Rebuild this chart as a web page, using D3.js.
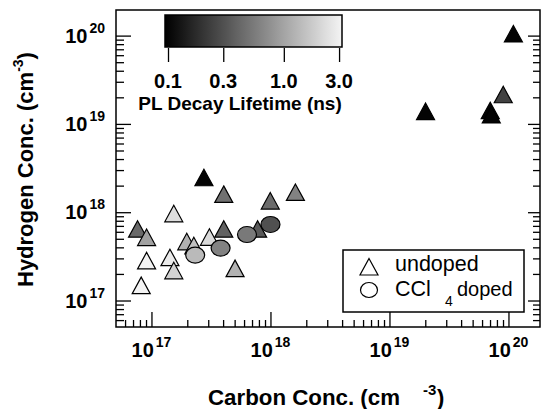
<!DOCTYPE html>
<html>
<head>
<meta charset="utf-8">
<script src="https://cdn.jsdelivr.net/npm/d3@7"></script>
<style>
    body { margin: 0; background: #fff; }
    svg { display: block; font-family: "Liberation Sans", Arial, sans-serif; }
    .tick-label { font-size: 20px; font-weight: bold; }
    .axis-title { font-size: 22px; font-weight: bold; }
    .legend-text { font-size: 21.5px; }
</style>
</head>
<body>
<script>
// Chart values
const undopedCarbon   = [2.76e17, 4.05e17, 1.54e17, 7.64e16, 9.1e16, 1.98e17, 2.27e17, 3.07e17, 4.05e17, 9.1e16, 1.43e17, 1.54e17, 8.2e16, 5.04e17, 9.96e17, 1.62e18, 7.8e17, 1.10e20, 9.04e19, 7.03e19, 7.17e19, 2.01e19];
const undopedHydrogen = [2.33e18, 1.51e18, 9.1e17, 6.1e17, 4.9e17, 4.39e17, 3.95e17, 4.93e17, 6.1e17, 2.67e17, 2.9e17, 2.06e17, 1.40e17, 2.18e17, 1.27e18, 1.59e18, 6.1e17, 9.9e19, 2.03e19, 1.34e19, 1.2e19, 1.31e19];
const undopedLifetime = [0.1, 0.48, 2.3, 0.43, 0.96, 1.22, 1.5, 2.18, 0.38, 3.09, 2.75, 1.94, 3.2, 1.22, 0.45, 0.61, 0.34, 0.1, 0.24, 0.1, 0.1, 0.1];

const dopedCarbon   = [2.33e17, 3.81e17, 6.35e17, 1.0e18];
const dopedHydrogen = [3.27e17, 3.92e17, 5.59e17, 7.26e17];
const dopedLifetime = [1.37, 0.61, 0.54, 0.30];

const xDecades = [17, 18, 19, 20];
const yDecades = [17, 18, 19, 20];
const lifetimeTicks = [0.1, 0.3, 1.0, 3.0];
const lifetimeLabels = ["0.1", "0.3", "1.0", "3.0"];
const legendLabels = ["undoped", "CCl"];

// Layout
const width = 541;
const height = 409;
const plot = { left: 116, right: 540, top: 10, bottom: 327 };

const svg = d3.select("body")
    .append("svg")
    .attr("width", width)
    .attr("height", height);

// Scales
const xScale = d3.scaleLog()
    .domain([Math.pow(10, 16.702), Math.pow(10, 20.265)])
    .range([plot.left, plot.right]);

const yScale = d3.scaleLog()
    .domain([Math.pow(10, 16.70), Math.pow(10, 20.29)])
    .range([plot.bottom, plot.top]);

const barScale = d3.scaleLog()
    .domain([0.0942, 3.18])
    .range([165, 342]);

const colorScale = d3.scaleLog()
    .domain([0.0942, 3.18])
    .range(["#000000", "#f4f4f4"])
    .clamp(true);

// Minor tick values for a log domain
function minorTicks(scale) {
    const [lo, hi] = scale.domain();
    const out = [];
    for (let e = Math.floor(Math.log10(lo)); e <= Math.ceil(Math.log10(hi)); e++) {
        for (let m = 2; m <= 9; m++) {
            const v = m * Math.pow(10, e);
            if (v >= lo && v <= hi) out.push(v);
        }
    }
    return out;
}
const xMajor = xDecades.map(e => Math.pow(10, e));
const yMajor = yDecades.map(e => Math.pow(10, e));

function tickAxis(axis, values, size, transform) {
    const g = svg.append("g")
        .attr("transform", transform)
        .call(axis.tickValues(values).tickSize(size).tickFormat(""));
    g.select(".domain").remove();
    g.selectAll("line").attr("stroke", "#000").attr("stroke-width", 1.3);
}

// Bottom axis ticks (inward)
tickAxis(d3.axisTop(xScale), xMajor, 15, `translate(0, ${plot.bottom})`);
tickAxis(d3.axisTop(xScale), minorTicks(xScale), 7, `translate(0, ${plot.bottom})`);

// Left axis ticks (inward)
tickAxis(d3.axisRight(yScale), yMajor, 15, `translate(${plot.left}, 0)`);
tickAxis(d3.axisRight(yScale), minorTicks(yScale), 8, `translate(${plot.left}, 0)`);

// Right axis ticks (inward)
tickAxis(d3.axisLeft(yScale), yMajor, 12, `translate(${plot.right}, 0)`);
tickAxis(d3.axisLeft(yScale), minorTicks(yScale), 7, `translate(${plot.right}, 0)`);

// Frame
svg.append("rect")
    .attr("x", plot.left)
    .attr("y", plot.top)
    .attr("width", plot.right - plot.left)
    .attr("height", plot.bottom - plot.top)
    .attr("fill", "none")
    .attr("stroke", "#000")
    .attr("stroke-width", 1.5);

// X tick labels
xDecades.forEach(e => {
    const t = svg.append("text")
        .attr("class", "tick-label")
        .attr("x", xScale(Math.pow(10, e)))
        .attr("y", 357)
        .attr("text-anchor", "middle");
    t.append("tspan").text("10");
    t.append("tspan").attr("dx", 2).attr("dy", -10).style("font-size", "14px").text(e);
});

// Y tick labels
yDecades.forEach(e => {
    const t = svg.append("text")
        .attr("class", "tick-label")
        .attr("x", 105)
        .attr("y", yScale(Math.pow(10, e)) + 7)
        .attr("text-anchor", "end");
    t.append("tspan").text("10");
    t.append("tspan").attr("dx", 2).attr("dy", -10).style("font-size", "14px").text(e);
});

// X axis title
svg.append("text")
    .attr("class", "axis-title")
    .attr("x", 208)
    .attr("y", 405)
    .attr("textLength", 192)
    .attr("lengthAdjust", "spacingAndGlyphs")
    .text("Carbon Conc. (cm");
svg.append("text")
    .attr("class", "axis-title")
    .attr("x", 423)
    .attr("y", 395)
    .style("font-size", "15px")
    .text("-3");
svg.append("text")
    .attr("class", "axis-title")
    .attr("x", 437)
    .attr("y", 405)
    .text(")");

// Y axis title
const yTitle = svg.append("text")
    .attr("class", "axis-title")
    .attr("transform", "rotate(-90)")
    .attr("x", -287)
    .attr("y", 33);
yTitle.append("tspan").text("Hydrogen Conc. (cm");
yTitle.append("tspan").attr("dy", -10).style("font-size", "14px").text("-3");
yTitle.append("tspan").attr("dy", 10).text(")");

// Colour bar
const grad = svg.append("defs")
    .append("linearGradient")
    .attr("id", "lifetime-grad")
    .attr("x1", "0%").attr("x2", "100%");
const [b0, b1] = barScale.domain();
d3.range(0, 21).forEach(i => {
    const v = b0 * Math.pow(b1 / b0, i / 20);
    grad.append("stop")
        .attr("offset", `${i * 5}%`)
        .attr("stop-color", colorScale(v));
});

svg.append("rect")
    .attr("x", barScale.range()[0])
    .attr("y", 15)
    .attr("width", barScale.range()[1] - barScale.range()[0])
    .attr("height", 32)
    .attr("fill", "url(#lifetime-grad)")
    .attr("stroke", "#000")
    .attr("stroke-width", 1.5);

const barAxis = svg.append("g")
    .attr("transform", "translate(0, 48)")
    .call(d3.axisBottom(barScale).tickValues(lifetimeTicks).tickSize(14).tickFormat(""));
barAxis.select(".domain").remove();
barAxis.selectAll("line").attr("stroke", "#000").attr("stroke-width", 1.3);

svg.selectAll(".bar-label")
    .data(lifetimeTicks)
    .join("text")
    .attr("class", "tick-label bar-label")
    .attr("x", d => barScale(d))
    .attr("y", 88)
    .attr("text-anchor", "middle")
    .text((d, i) => lifetimeLabels[i]);

svg.append("text")
    .attr("x", 240)
    .attr("y", 110)
    .attr("text-anchor", "middle")
    .style("font-size", "19px")
    .style("font-weight", "bold")
    .text("PL Decay Lifetime (ns)");

// Markers
const triangle = "M0,-10.5 L9,6 L-9,6 Z";

const undoped = undopedCarbon.map((c, i) => ({ c, h: undopedHydrogen[i], t: undopedLifetime[i] }));
const doped = dopedCarbon.map((c, i) => ({ c, h: dopedHydrogen[i], t: dopedLifetime[i] }));

svg.selectAll(".undoped")
    .data(undoped)
    .join("path")
    .attr("class", "undoped")
    .attr("d", triangle)
    .attr("transform", d => `translate(${xScale(d.c)}, ${yScale(d.h)})`)
    .attr("fill", d => colorScale(d.t))
    .attr("stroke", "#000")
    .attr("stroke-width", 1.2);

svg.selectAll(".doped")
    .data(doped)
    .join("ellipse")
    .attr("class", "doped")
    .attr("cx", d => xScale(d.c))
    .attr("cy", d => yScale(d.h))
    .attr("rx", 9.5)
    .attr("ry", 8)
    .attr("fill", d => colorScale(d.t))
    .attr("stroke", "#000")
    .attr("stroke-width", 1.2);

// Legend
svg.append("rect")
    .attr("x", 343)
    .attr("y", 250)
    .attr("width", 181)
    .attr("height", 62)
    .attr("fill", "#fff")
    .attr("stroke", "#000")
    .attr("stroke-width", 1.5);

svg.append("path")
    .attr("d", triangle)
    .attr("transform", "translate(369, 269)")
    .attr("fill", "#fff")
    .attr("stroke", "#000")
    .attr("stroke-width", 1.2);

svg.append("ellipse")
    .attr("cx", 369)
    .attr("cy", 290)
    .attr("rx", 8.5)
    .attr("ry", 7.5)
    .attr("fill", "#fff")
    .attr("stroke", "#000")
    .attr("stroke-width", 1.2);

svg.append("text")
    .attr("class", "legend-text")
    .attr("x", 395)
    .attr("y", 271)
    .text(legendLabels[0]);

const ccl = svg.append("text")
    .attr("class", "legend-text");
ccl.append("tspan").attr("x", 395).attr("y", 296).text(legendLabels[1]);
ccl.append("tspan").attr("x", 445).attr("y", 306).style("font-size", "14px").text("4");
ccl.append("tspan").attr("x", 457).attr("y", 296).style("font-size", "20px").text("doped");
</script>
</body>
</html>
